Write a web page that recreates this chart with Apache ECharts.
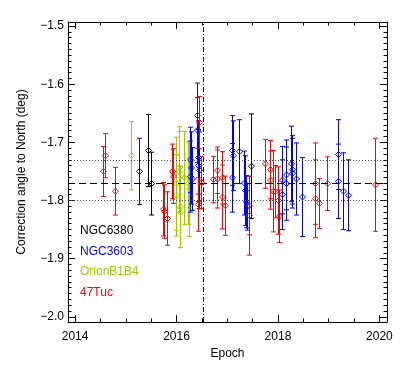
<!DOCTYPE html>
<html>
<head>
<meta charset="utf-8">
<script src="https://cdn.jsdelivr.net/npm/echarts@6/dist/echarts.min.js"></script>
<style>
  html, body { margin: 0; padding: 0; background: #fff; }
  #main { width: 407px; height: 367px; }
</style>
</head>
<body>
<div id="main"></div>
<script>
// 47Tuc
var tucEpoch = [2014.55, 2014.59, 2014.79, 2015.73, 2015.75, 2015.82, 2015.92, 2015.93, 2016.45, 2016.48, 2016.43,
    2016.71, 2016.80, 2016.80, 2016.89, 2016.89, 2016.96, 2017.42, 2017.42, 2017.75, 2017.84, 2017.85, 2017.91,
    2017.94, 2018.01, 2018.02, 2018.73, 2018.73, 2018.81, 2018.97, 2019.91];
var tucAngle = [-1.750, -1.723, -1.784, -1.815, -1.819, -1.831, -1.750, -1.758, -1.666, -1.769, -1.807,
    -1.764, -1.748, -1.763, -1.761, -1.794, -1.809, -1.809, -1.826, -1.737, -1.747, -1.765, -1.784,
    -1.785, -1.800, -1.827, -1.771, -1.797, -1.805, -1.771, -1.773];
var tucErr = [0.043, 0.038, 0.041, 0.046, 0.046, 0.046, 0.047, 0.047, 0.045, 0.045, 0.046,
    0.040, 0.040, 0.050, 0.045, 0.055, 0.051, 0.050, 0.068, 0.042, 0.050, 0.050, 0.070,
    0.045, 0.058, 0.045, 0.070, 0.067, 0.043, 0.046, 0.080];

// NGC3603
var ngc3603Epoch = [2015.26, 2016.26, 2016.29, 2016.26, 2016.30, 2016.40, 2016.40, 2016.42, 2016.43, 2017.10,
    2017.11, 2017.23, 2017.10, 2017.34, 2017.35, 2017.37, 2017.38, 2018.08, 2018.08, 2018.15, 2018.15,
    2018.26, 2018.28, 2018.28, 2018.36, 2018.48, 2019.19, 2019.19, 2019.29, 2019.38];
var ngc3603Angle = [-1.750, -1.730, -1.744, -1.759, -1.763, -1.654, -1.679, -1.726, -1.740, -1.714,
    -1.723, -1.716, -1.761, -1.770, -1.783, -1.802, -1.811, -1.765, -1.790, -1.756, -1.771,
    -1.737, -1.747, -1.753, -1.763, -1.794, -1.721, -1.767, -1.784, -1.791];
var ngc3603Err = [0.057, 0.056, 0.062, 0.061, 0.054, 0.056, 0.056, 0.063, 0.062, 0.060,
    0.060, 0.055, 0.059, 0.055, 0.060, 0.045, 0.040, 0.058, 0.060, 0.060, 0.063,
    0.065, 0.059, 0.060, 0.062, 0.068, 0.060, 0.064, 0.066, 0.061];

// NGC6380
var ngc6380Epoch = [2015.43, 2015.50, 2016.45, 2017.46];
var ngc6380Angle = [-1.714, -1.771, -1.748, -1.741];
var ngc6380Err = [0.062, 0.054, 0.066, 0.090];

// OrionB1B4
var orionEpoch = [2015.10, 2015.98, 2015.99, 2016.05, 2016.05, 2016.06, 2016.06, 2016.14, 2016.22, 2016.24];
var orionAngle = [-1.723, -1.771, -1.791, -1.743, -1.751, -1.811, -1.821, -1.761, -1.771, -1.780];
var orionErr = [0.059, 0.080, 0.070, 0.070, 0.070, 0.070, 0.060, 0.080, 0.070, 0.082];

// mean, scatter, epoch split
var meanAngle = -1.766;
var sigmaAngle = 0.035;
var splitEpoch = 2016.53;

var xMajor = [2014, 2016, 2018, 2020];
var yMajor = [-2.0, -1.9, -1.8, -1.7, -1.6, -1.5];

var xMinor = [];
for (var t = 2014; t <= 2020; t += 0.5) xMinor.push(t);
var yMinor = [];
for (var k = -200; k <= -150; k++) yMinor.push(k / 100);

var xMin = 2013.86, xMax = 2020.15, yMin = -2.009, yMax = -1.493;
var font = "'Liberation Sans', Arial, sans-serif";

function zip(e, a, s) {
    var out = [];
    for (var i = 0; i < e.length; i++) out.push([e[i], a[i], s[i]]);
    return out;
}

function renderErr(params, api) {
    var x = api.value(0), v = api.value(1), e = api.value(2);
    var c = api.coord([x, v]);
    var top = api.coord([x, v + e]);
    var bot = api.coord([x, v - e]);
    var col = api.visual('color');
    var cx = Math.round(c[0]) + 0.5;
    var s = 3, w = 2.5;
    var st = { stroke: col, lineWidth: 1, fill: null };
    return {
        type: 'group',
        children: [
            { type: 'line', shape: { x1: cx, y1: top[1], x2: cx, y2: bot[1] }, style: st },
            { type: 'line', shape: { x1: cx - w, y1: top[1], x2: cx + w, y2: top[1] }, style: st },
            { type: 'line', shape: { x1: cx - w, y1: bot[1], x2: cx + w, y2: bot[1] }, style: st },
            { type: 'polygon', shape: { points: [[cx, c[1] - s], [cx + s, c[1]], [cx, c[1] + s], [cx - s, c[1]]] },
              style: { stroke: col, lineWidth: 1, fill: 'none' } }
        ]
    };
}

function xAx(pos, ticks, len, withLine, withLabel) {
    return {
        type: 'value', position: pos, min: xMin, max: xMax,
        axisLine: { show: withLine, onZero: false, lineStyle: { color: '#000', width: 1 } },
        axisTick: { show: true, inside: true, length: len, customValues: ticks, lineStyle: { color: '#000' } },
        axisLabel: { show: withLabel, customValues: xMajor, margin: 9, color: '#000', fontSize: 12, fontFamily: font,
            formatter: function (v) { return String(Math.round(v)); } },
        splitLine: { show: false },
        name: withLabel ? 'Epoch' : '', nameLocation: 'middle', nameGap: 21,
        nameTextStyle: { color: '#000', fontSize: 12, fontFamily: font }
    };
}

function yAx(pos, ticks, len, withLine, withLabel) {
    return {
        type: 'value', position: pos, min: yMin, max: yMax,
        axisLine: { show: withLine, onZero: false, lineStyle: { color: '#000', width: 1 } },
        axisTick: { show: true, inside: true, length: len, customValues: ticks, lineStyle: { color: '#000' } },
        axisLabel: { show: withLabel, customValues: yMajor, margin: 4, color: '#000', fontSize: 12, fontFamily: font,
            formatter: function (v) { return '\u2212' + Math.abs(v).toFixed(1); } },
        splitLine: { show: false },
        name: withLabel ? 'Correction angle to North (deg)' : '', nameLocation: 'middle', nameGap: 40,
        nameTextStyle: { color: '#000', fontSize: 12, fontFamily: font }
    };
}

var myChart = echarts.init(document.getElementById('main'));
var option = {
    animation: false,
    backgroundColor: '#fff',
    grid: { left: 68, right: 20, top: 22, bottom: 45 },
    xAxis: [
        xAx('bottom', xMajor, 7, true, true),
        xAx('bottom', xMinor, 3.5, false, false),
        xAx('top', xMajor, 7, true, false),
        xAx('top', xMinor, 3.5, false, false)
    ],
    yAxis: [
        yAx('left', yMajor, 7, true, true),
        yAx('left', yMinor, 3.5, false, false),
        yAx('right', yMajor, 7, true, false),
        yAx('right', yMinor, 3.5, false, false)
    ],
    graphic: [
        { type: 'text', left: 80, top: 225, style: { text: 'NGC6380', fill: '#000', font: '12px ' + font } },
        { type: 'text', left: 80, top: 246, style: { text: 'NGC3603', fill: '#0000ff', font: '12px ' + font } },
        { type: 'text', left: 80, top: 266, style: { text: 'OrionB1B4', fill: '#99cc00', font: '12px ' + font } },
        { type: 'text', left: 80, top: 287, style: { text: '47Tuc', fill: '#ff0000', font: '12px ' + font } }
    ],
    series: [
        {
            name: 'NGC6380', type: 'custom', renderItem: renderErr, color: '#000000',
            data: zip(ngc6380Epoch, ngc6380Angle, ngc6380Err), encode: { x: 0, y: 1 }, z: 3,
            markLine: {
                silent: true, symbol: 'none', label: { show: false },
                data: [
                    { yAxis: meanAngle, lineStyle: { color: '#000', type: [7, 4], width: 1 } },
                    { yAxis: meanAngle + sigmaAngle, lineStyle: { color: '#444', type: [1, 2], width: 1 } },
                    { yAxis: meanAngle - sigmaAngle, lineStyle: { color: '#444', type: [1, 2], width: 1 } },
                    { xAxis: splitEpoch, lineStyle: { color: '#000', type: [5, 2, 1, 2], width: 1 } }
                ]
            }
        },
        {
            name: 'NGC3603', type: 'custom', renderItem: renderErr, color: '#0000ff',
            data: zip(ngc3603Epoch, ngc3603Angle, ngc3603Err), encode: { x: 0, y: 1 }, z: 3
        },
        {
            name: 'OrionB1B4', type: 'custom', renderItem: renderErr, color: '#99cc00',
            data: zip(orionEpoch, orionAngle, orionErr), encode: { x: 0, y: 1 }, z: 2
        },
        {
            name: '47Tuc', type: 'custom', renderItem: renderErr, color: '#ff0000',
            data: zip(tucEpoch, tucAngle, tucErr), encode: { x: 0, y: 1 }, z: 4
        }
    ]
};
myChart.setOption(option);
</script>
</body>
</html>
